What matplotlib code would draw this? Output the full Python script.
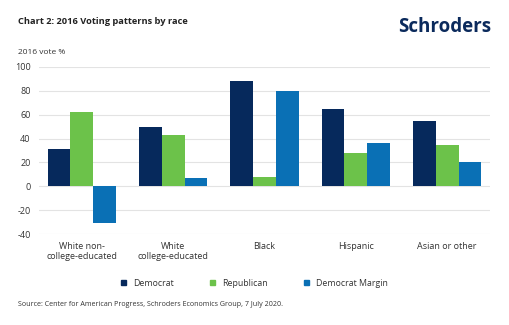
import numpy as np
import matplotlib
matplotlib.use('Agg')
import matplotlib.pyplot as plt
from matplotlib.patches import Patch

plt.rcParams['font.family'] = ['Open Sans', 'DejaVu Sans']
plt.rcParams['axes.unicode_minus'] = False

categorias = ['White non-\ncollege-educated', 'White\ncollege-educated', 'Black', 'Hispanic', 'Asian or other']
democrat = [31, 50, 88, 65, 55]
republican = [62, 43, 8, 28, 35]
margin = [-31, 7, 80, 36, 20]
series = ['Democrat', 'Republican', 'Democrat Margin']
colores = ['#06295c', '#6cc24a', '#0a70b5']

fig = plt.figure(figsize=(5.09, 3.25), dpi=100)
ax = fig.add_axes([39 / 509, 1 - 234 / 325, 451 / 509, 167 / 325])

x = np.arange(len(categorias))
w = 0.25
for i, (vals, c) in enumerate(zip([democrat, republican, margin], colores)):
    ax.bar(x + (i - 1) * w, vals, w, color=c, zorder=3)

ax.set_ylim(-40, 100)
ax.set_yticks(range(-40, 101, 20))
ax.set_xlim(-0.47, 4.47)
ax.set_xticks(x)
ax.set_xticklabels(categorias, fontsize=6.5, color='#333333', linespacing=1.1)
ax.tick_params(axis='both', length=0, labelsize=6.5, colors='#333333')
ax.tick_params(axis='y', pad=6)
ax.tick_params(axis='x', pad=6)
ax.grid(axis='y', color='#e3e3e3', linewidth=0.8, zorder=0)
for s in ax.spines.values():
    s.set_visible(False)

fig.text(18 / 509, 1 - 22 / 325, 'Chart 2: 2016 Voting patterns by race', fontsize=6.7,
         fontweight='bold', color='#222222', va='center')
fig.text(491 / 509, 1 - 27 / 325, 'Schroders', fontsize=13.5, fontweight='bold',
         color='#0b2a5c', ha='right', va='center')
fig.text(18 / 509, 1 - 52 / 325, '2016 vote %', fontsize=6, color='#333333', va='center')
fig.text(18 / 509, 1 - 305 / 325,
         'Source: Center for American Progress, Schroders Economics Group, 7 July 2020.',
         fontsize=5.1, color='#333333', va='center')

handles = [Patch(color=c, label=s) for s, c in zip(series, colores)]
fig.legend(handles=handles, loc='center', bbox_to_anchor=(0.5, 1 - 283 / 325), ncol=3,
           frameon=False, fontsize=6.3, handlelength=0.6, handleheight=0.6,
           columnspacing=4.1, handletextpad=0.8, labelcolor='#333333')

fig.savefig('out.png', dpi=100, facecolor='white')
